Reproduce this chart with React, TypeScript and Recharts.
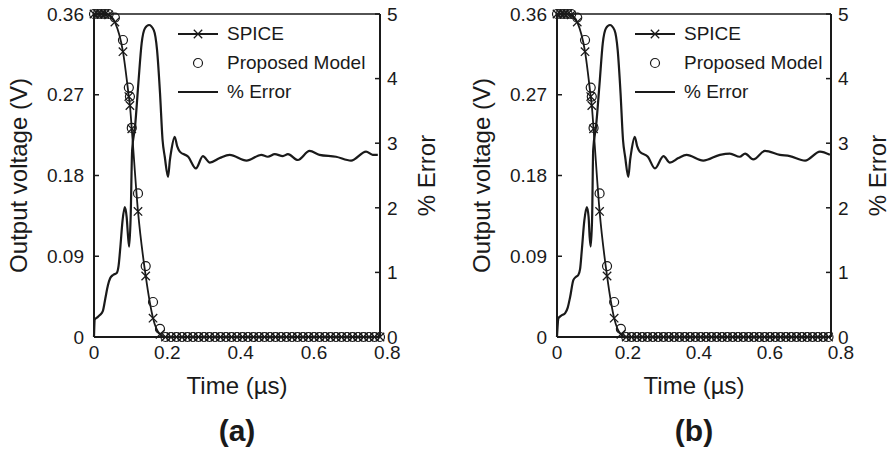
import { ComposedChart, Line, XAxis, YAxis, ReferenceLine, Label } from 'recharts';

// voltage samples (µs, V)
const timeV = [
  0, 0.01, 0.02, 0.03, 0.04, 0.057, 0.079, 0.095, 0.098, 0.103, 0.12, 0.141, 0.161, 0.18,
  0.195, 0.21, 0.225, 0.24, 0.255, 0.27, 0.285, 0.3, 0.315, 0.33, 0.345, 0.36, 0.375, 0.39,
  0.405, 0.42, 0.435, 0.45, 0.465, 0.48, 0.495, 0.51, 0.525, 0.54, 0.555, 0.57, 0.585, 0.6,
  0.615, 0.63, 0.645, 0.66, 0.675, 0.69, 0.705, 0.72, 0.735, 0.75, 0.765, 0.78,
];
const spiceV = [
  0.36, 0.36, 0.36, 0.36, 0.359, 0.351, 0.318, 0.268, 0.258, 0.232, 0.14, 0.068, 0.021, 0.003,
  0, 0, 0, 0, 0, 0, 0, 0, 0, 0, 0, 0, 0, 0,
  0, 0, 0, 0, 0, 0, 0, 0, 0, 0, 0, 0, 0, 0,
  0, 0, 0, 0, 0, 0, 0, 0, 0, 0, 0, 0,
];
const modelV = [
  0.36, 0.36, 0.36, 0.36, 0.36, 0.356, 0.331, 0.278, 0.268, 0.233, 0.16, 0.079, 0.039, 0.009,
  0, 0, 0, 0, 0, 0, 0, 0, 0, 0, 0, 0, 0, 0,
  0, 0, 0, 0, 0, 0, 0, 0, 0, 0, 0, 0, 0, 0,
  0, 0, 0, 0, 0, 0, 0, 0, 0, 0, 0, 0,
];

// % error, panel (a)
const timeErrA = [
  0, 0.002, 0.008, 0.016, 0.024, 0.031, 0.038, 0.044, 0.052, 0.062, 0.067, 0.072, 0.078, 0.084,
  0.089, 0.093, 0.096, 0.1, 0.104, 0.112, 0.121, 0.13, 0.139, 0.15, 0.163, 0.172, 0.18, 0.187,
  0.193, 0.202, 0.207, 0.211, 0.22, 0.227, 0.234, 0.257, 0.278, 0.297, 0.316, 0.343, 0.37, 0.416,
  0.456, 0.474, 0.493, 0.515, 0.529, 0.556, 0.588, 0.615, 0.66, 0.701, 0.742, 0.76, 0.774,
];
const errA = [
  0, 0.27, 0.3, 0.34, 0.4, 0.6, 0.8, 0.91, 0.96, 0.99, 1.1, 1.4, 1.81, 2.01,
  1.86, 1.55, 1.4, 1.86, 2.89, 3.26, 3.93, 4.55, 4.78, 4.83, 4.75, 4.44, 3.78, 3.05,
  2.79, 2.48, 2.74, 2.89, 3.1, 2.95, 2.87, 2.79, 2.61, 2.8, 2.7, 2.77, 2.82, 2.73,
  2.82, 2.79, 2.83, 2.8, 2.83, 2.74, 2.88, 2.82, 2.79, 2.73, 2.87, 2.82, 2.82,
];

// % error, panel (b)
const timeErrB = [
  0, 0.004, 0.012, 0.023, 0.03, 0.037, 0.046, 0.053, 0.06, 0.065, 0.07, 0.077, 0.084,
  0.089, 0.092, 0.095, 0.099, 0.102, 0.11, 0.12, 0.129, 0.138, 0.149, 0.162, 0.171, 0.179, 0.186,
  0.192, 0.201, 0.206, 0.21, 0.219, 0.226, 0.233, 0.256, 0.276, 0.3, 0.318, 0.342, 0.365, 0.412,
  0.459, 0.487, 0.515, 0.53, 0.553, 0.586, 0.628, 0.656, 0.699, 0.741, 0.769,
];
const errB = [
  0, 0.29, 0.33, 0.37, 0.45, 0.62, 0.88, 0.93, 0.96, 1.05, 1.35, 1.8, 2.01,
  1.86, 1.55, 1.4, 1.86, 2.9, 3.26, 3.93, 4.55, 4.78, 4.83, 4.75, 4.44, 3.78, 3.05,
  2.79, 2.48, 2.74, 2.89, 3.1, 2.95, 2.87, 2.79, 2.61, 2.8, 2.7, 2.77, 2.82, 2.73,
  2.82, 2.84, 2.79, 2.84, 2.75, 2.88, 2.82, 2.8, 2.73, 2.87, 2.82,
];

const voltTicks = [0, 0.09, 0.18, 0.27, 0.36];
const errTicks = [0, 1, 2, 3, 4, 5];
const timeTicks = [0, 0.2, 0.4, 0.6, 0.8];

const INK = '#1a1a1a';
const FONT = '"Liberation Sans", Arial, Helvetica, sans-serif';
const tickStyle = { fill: INK, fontSize: 19, fontFamily: FONT };

function Cross(props: any) {
  const { cx, cy } = props;
  if (cx == null || cy == null) return null;
  const s = 4.2;
  return (
    <path
      d={`M${cx - s},${cy - s}L${cx + s},${cy + s}M${cx - s},${cy + s}L${cx + s},${cy - s}`}
      stroke={INK}
      strokeWidth={1.3}
      fill="none"
    />
  );
}

function Ring(props: any) {
  const { cx, cy } = props;
  if (cx == null || cy == null) return null;
  return <circle cx={cx} cy={cy} r={4.5} stroke={INK} strokeWidth={1.2} fill="none" />;
}

function ChartLegend({ left }: { left: number }) {
  const row = { display: 'flex', alignItems: 'center', height: 29 };
  const text = { marginLeft: 9, fontSize: 19, fontFamily: FONT, color: INK };
  return (
    <div style={{ position: 'absolute', left, top: 19 }}>
      <div style={row}>
        <svg width={40} height={12}>
          <line x1={0} y1={6} x2={40} y2={6} stroke={INK} strokeWidth={2} />
          <Cross cx={20} cy={6} />
        </svg>
        <span style={text}>SPICE</span>
      </div>
      <div style={row}>
        <svg width={40} height={12}>
          <Ring cx={20} cy={6} />
        </svg>
        <span style={text}>Proposed Model</span>
      </div>
      <div style={row}>
        <svg width={40} height={12}>
          <line x1={0} y1={6} x2={40} y2={6} stroke={INK} strokeWidth={2} />
        </svg>
        <span style={text}>% Error</span>
      </div>
    </div>
  );
}

function VerticalTitle({ x, y, text }: { x: number; y: number; text: string }) {
  return (
    <text
      x={x}
      y={y}
      transform={`rotate(-90 ${x} ${y})`}
      textAnchor="middle"
      dominantBaseline="central"
      fontFamily={FONT}
      fontSize={24}
      fill={INK}
    >
      {text}
    </text>
  );
}

interface PanelProps {
  left: number;
  marginLeft: number;
  marginRight: number;
  xMax: number;
  tag: string;
  errT: number[];
  errV: number[];
  legendLeft: number;
}

function Panel({ left, marginLeft, marginRight, xMax, tag, errT, errV, legendLeft }: PanelProps) {
  const voltData = timeV
    .map((t, i) => ({ t, spice: spiceV[i], model: modelV[i] }))
    .filter(d => d.t <= xMax);
  const errData = errT.map((t, i) => ({ t, e: errV[i] }));

  return (
    <div style={{ position: 'absolute', left, top: 0, width: 445, height: 454 }}>
      <ComposedChart
        width={445}
        height={454}
        margin={{ top: 14, right: marginRight, bottom: 77, left: marginLeft }}
      >
        <XAxis
          type="number"
          dataKey="t"
          domain={[0, xMax]}
          ticks={timeTicks}
          interval={0}
          height={40}
          tickLine={false}
          tickMargin={3}
          tick={tickStyle}
          tickFormatter={(v: number) => (v === 0 ? '0' : String(v))}
          axisLine={{ stroke: INK, strokeWidth: 2 }}
        >
          <Label
            content={(p: any) => {
              const vb = p.viewBox || { x: 0, y: 0, width: 0 };
              const cx = vb.x + vb.width / 2;
              return (
                <g fontFamily={FONT} fill={INK} textAnchor="middle">
                  <text x={cx} y={vb.y + 57} fontSize={24}>Time (µs)</text>
                  <text x={cx} y={vb.y + 104} fontSize={30} fontWeight="bold">{tag}</text>
                </g>
              );
            }}
          />
        </XAxis>
        <YAxis
          yAxisId="v"
          domain={[0, 0.36]}
          ticks={voltTicks}
          interval={0}
          width={60}
          tickSize={-5}
          tickMargin={15}
          tick={tickStyle}
          tickFormatter={(v: number) => (v === 0 ? '0' : v.toFixed(2))}
          axisLine={{ stroke: INK, strokeWidth: 2 }}
          tickLine={{ stroke: INK, strokeWidth: 1.5 }}
        >
          <Label
            content={(p: any) => {
              const vb = p.viewBox || { x: 0, y: 0, width: 0, height: 0 };
              return (
                <VerticalTitle
                  x={vb.x + vb.width - 76}
                  y={vb.y + vb.height / 2}
                  text="Output voltage (V)"
                />
              );
            }}
          />
        </YAxis>
        <YAxis
          yAxisId="e"
          orientation="right"
          domain={[0, 5]}
          ticks={errTicks}
          interval={0}
          width={60}
          tickSize={-5}
          tickMargin={12}
          tick={tickStyle}
          axisLine={{ stroke: INK, strokeWidth: 2 }}
          tickLine={{ stroke: INK, strokeWidth: 1.5 }}
        >
          <Label
            content={(p: any) => {
              const vb = p.viewBox || { x: 0, y: 0, width: 0, height: 0 };
              return <VerticalTitle x={vb.x + 46} y={vb.y + vb.height / 2} text="% Error" />;
            }}
          />
        </YAxis>
        <ReferenceLine yAxisId="v" y={0.36} stroke={INK} strokeWidth={1.5} />
        <Line
          yAxisId="e"
          data={errData}
          dataKey="e"
          type="monotone"
          stroke={INK}
          strokeWidth={2.2}
          dot={false}
          isAnimationActive={false}
        />
        <Line
          yAxisId="v"
          data={voltData}
          dataKey="spice"
          type="monotone"
          stroke={INK}
          strokeWidth={1.8}
          dot={(p: any) => <Cross key={`c${p.index}`} {...p} />}
          isAnimationActive={false}
        />
        <Line
          yAxisId="v"
          data={voltData}
          dataKey="model"
          stroke="none"
          dot={(p: any) => <Ring key={`r${p.index}`} {...p} />}
          isAnimationActive={false}
        />
      </ComposedChart>
      <ChartLegend left={legendLeft} />
    </div>
  );
}

export default function App() {
  return (
    <div
      style={{
        position: 'absolute',
        left: 0,
        top: 0,
        width: 891,
        height: 454,
        background: '#fff',
        overflow: 'hidden',
      }}
    >
      <Panel
        left={0}
        marginLeft={34}
        marginRight={5}
        xMax={0.78}
        tag="(a)"
        errT={timeErrA}
        errV={errA}
        legendLeft={178}
      />
      <Panel
        left={446}
        marginLeft={51}
        marginRight={0}
        xMax={0.772}
        tag="(b)"
        errT={timeErrB}
        errV={errB}
        legendLeft={189}
      />
    </div>
  );
}
